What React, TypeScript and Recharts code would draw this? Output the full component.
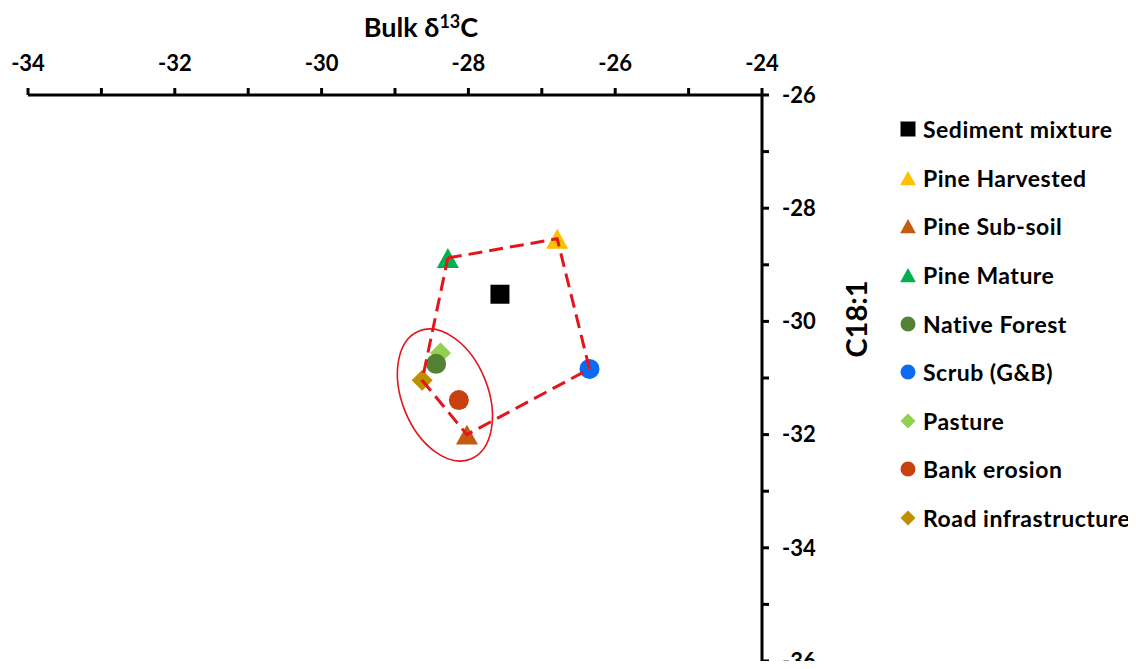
import React from 'react';
import { ScatterChart, Scatter, XAxis, YAxis, Legend } from 'recharts';

// axis ticks (odd values get a tick mark but no label)
const xTicks = [-34, -33, -32, -31, -30, -29, -28, -27, -26, -25, -24];
const yTicks = [-36, -35, -34, -33, -32, -31, -30, -29, -28, -27, -26];

// source / mixture values (bulk d13C vs C18:1)
const sediment = [{ x: -27.57, y: -29.52 }];
const pineHarvested = [{ x: -26.79, y: -28.54 }];
const pineSubSoil = [{ x: -28.02, y: -32.0 }];
const pineMature = [{ x: -28.28, y: -28.88 }];
const nativeForest = [{ x: -28.44, y: -30.75 }];
const scrub = [{ x: -26.35, y: -30.84 }];
const pasture = [{ x: -28.38, y: -30.56 }];
const bankErosion = [{ x: -28.13, y: -31.39 }];
const roadInfra = [{ x: -28.63, y: -31.04 }];

// mixing polygon and the ellipse round the clustered sources
const polygon = [...pineMature, ...pineHarvested, ...scrub, ...pineSubSoil, ...roadInfra, ...pineMature];
const ellipseCentre = [{ x: -28.32, y: -31.3 }];

const RED = '#E3161C';
const FONT = 'Lato, "Open Sans", sans-serif';

type Kind = 'square' | 'triangle' | 'circle' | 'diamond';

const series: { name: string; data: { x: number; y: number }[]; kind: Kind; color: string }[] = [
    { name: 'Sediment mixture', data: sediment, kind: 'square', color: '#000000' },
    { name: 'Pine Harvested', data: pineHarvested, kind: 'triangle', color: '#FFC000' },
    { name: 'Pine Sub-soil', data: pineSubSoil, kind: 'triangle', color: '#C55A11' },
    { name: 'Pine Mature', data: pineMature, kind: 'triangle', color: '#00B050' },
    { name: 'Native Forest', data: nativeForest, kind: 'circle', color: '#548235' },
    { name: 'Scrub (G&B)', data: scrub, kind: 'circle', color: '#0B6BF2' },
    { name: 'Pasture', data: pasture, kind: 'diamond', color: '#92D050' },
    { name: 'Bank erosion', data: bankErosion, kind: 'circle', color: '#C9400F' },
    { name: 'Road infrastructure', data: roadInfra, kind: 'diamond', color: '#BF8F00' },
];

// pasture sits under native forest in the original
const drawOrder = [0, 1, 2, 3, 6, 4, 5, 7, 8];

const marker = (kind: Kind, color: string, cx: number, cy: number, s: number) => {
    const h = s / 2;
    switch (kind) {
        case 'square':
            return <rect x={cx - h} y={cy - h} width={s} height={s} fill={color} />;
        case 'triangle':
            return (
                <polygon
                    points={`${cx},${cy - h * 0.95} ${cx + h * 1.05},${cy + h * 0.95} ${cx - h * 1.05},${cy + h * 0.95}`}
                    fill={color}
                />
            );
        case 'circle':
            return <circle cx={cx} cy={cy} r={h} fill={color} />;
        default:
            return <polygon points={`${cx},${cy - h} ${cx + h},${cy} ${cx},${cy + h} ${cx - h},${cy}`} fill={color} />;
    }
};

const plotSize: Record<Kind, number> = { square: 19, triangle: 21, circle: 20, diamond: 21 };

const XTitle = (props: any) => {
    const { viewBox } = props;
    return (
        <text x={viewBox.x + 393} y={viewBox.y + 2} textAnchor="middle" fontFamily={FONT} fontWeight={700} fontSize={27} fill="#000">
            Bulk δ<tspan dy={-9} fontSize={18}>13</tspan>
            <tspan dy={9}>C</tspan>
        </text>
    );
};

const YTitle = (props: any) => {
    const { viewBox } = props;
    const x = viewBox.x + 93;
    const y = viewBox.y + 224;
    return (
        <text x={x} y={y} transform={`rotate(-90 ${x} ${y})`} textAnchor="middle" dominantBaseline="central"
            fontFamily={FONT} fontWeight={700} fontSize={29} fill="#000">
            C18:1
        </text>
    );
};

const renderLegend = () => (
    <div style={{ fontFamily: FONT, fontWeight: 700, fontSize: 23, letterSpacing: 0.5, color: '#000' }}>
        {series.map(s => (
            <div key={s.name} style={{ display: 'flex', alignItems: 'center', height: 48.6, whiteSpace: 'nowrap' }}>
                <svg width={16} height={16} style={{ flexShrink: 0 }}>
                    {marker(s.kind, s.color, 8, 8, 15)}
                </svg>
                <span style={{ marginLeft: 7 }}>{s.name}</span>
            </div>
        ))}
    </div>
);

const tickStyle = { fill: '#000', fontSize: 22, fontWeight: 700, fontFamily: FONT };
const axisStroke = { stroke: '#000', strokeWidth: 3 };

export default function App() {
    return (
        <div style={{ width: 1120, height: 661, marginBottom: -8 }}>
            <ScatterChart width={1120} height={661} margin={{ top: 27, right: 306, bottom: 8, left: 20 }}>
                <XAxis
                    type="number"
                    dataKey="x"
                    orientation="top"
                    domain={[-34, -24]}
                    ticks={xTicks}
                    interval={0}
                    height={60}
                    tickFormatter={(v: number) => (v % 2 === 0 ? String(v) : '')}
                    tick={tickStyle}
                    tickSize={7}
                    tickMargin={17}
                    axisLine={axisStroke}
                    tickLine={axisStroke}
                    label={<XTitle />}
                />
                <YAxis
                    type="number"
                    dataKey="y"
                    orientation="right"
                    domain={[-36, -26]}
                    ticks={yTicks}
                    interval={0}
                    width={60}
                    tickFormatter={(v: number) => (v % 2 === 0 ? String(v) : '')}
                    tick={{ ...tickStyle, textAnchor: 'start' }}
                    tickSize={7}
                    tickMargin={13}
                    axisLine={axisStroke}
                    tickLine={axisStroke}
                    label={<YTitle />}
                />
                {drawOrder.map(i => {
                    const s = series[i];
                    return (
                        <Scatter
                            key={s.name}
                            name={s.name}
                            data={s.data}
                            fill={s.color}
                            isAnimationActive={false}
                            shape={(p: any) => marker(s.kind, s.color, p.cx, p.cy, plotSize[s.kind])}
                        />
                    );
                })}
                <Scatter
                    name="mixing polygon"
                    data={polygon}
                    fill={RED}
                    line={{ stroke: RED, strokeWidth: 3, strokeDasharray: '14 7' }}
                    lineType="joint"
                    isAnimationActive={false}
                    shape={() => <g />}
                    legendType="none"
                />
                <Scatter
                    name="cluster"
                    data={ellipseCentre}
                    fill="none"
                    isAnimationActive={false}
                    legendType="none"
                    shape={(p: any) => (
                        <ellipse
                            cx={p.cx}
                            cy={p.cy}
                            rx={69}
                            ry={43}
                            transform={`rotate(68 ${p.cx} ${p.cy})`}
                            fill="none"
                            stroke={RED}
                            strokeWidth={1.6}
                        />
                    )}
                />
                <Legend
                    layout="vertical"
                    align="center"
                    verticalAlign="middle"
                    content={renderLegend}
                    wrapperStyle={{ left: 892, top: 97, width: 240 }}
                />
            </ScatterChart>
        </div>
    );
}
